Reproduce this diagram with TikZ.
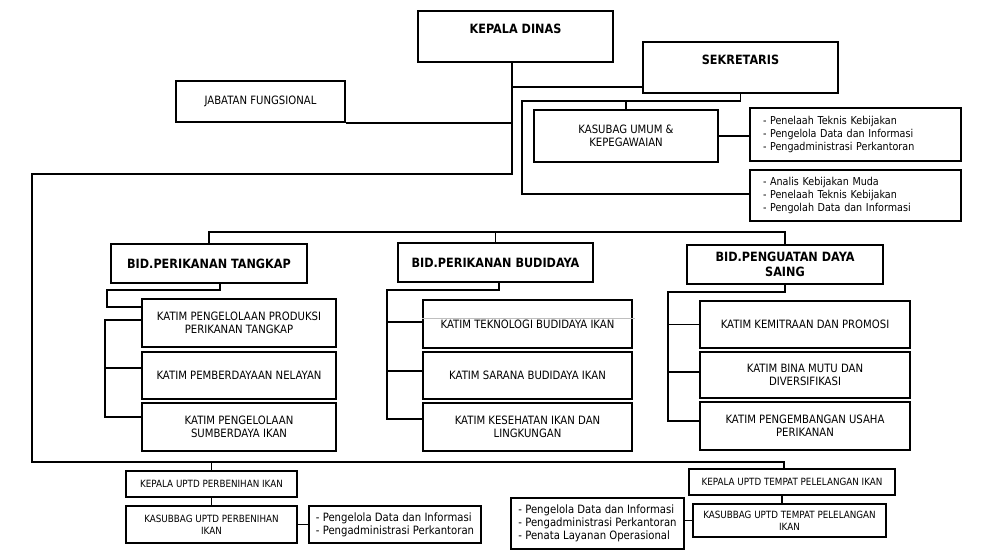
\documentclass[tikz,border=0pt]{standalone}
\usepackage{fontspec}
\setmainfont{DejaVu Sans}[FakeStretch=0.88]
\usepackage{tikz}
\usetikzlibrary{positioning,calc}

\tikzset{
  link/.style={line width=1.3pt},
  sz/.style 2 args={minimum width={#1*0.03cm}, minimum height={#2*0.03cm}},
  box/.style={draw, link, inner sep=0pt, align=center, font=\fontsize{9.8}{11.2}\selectfont},
  head/.style={box, font=\bfseries\fontsize{10.9}{12.5}\selectfont},
  small/.style={box, font=\fontsize{8.5}{10.2}\selectfont},
  lst/.style 2 args={draw, link, inner ysep=0pt, inner xsep=0.39cm, align=left,
    text width={(#1-26)*0.03cm}, minimum height={#2*0.03cm}, font=\fontsize{9.3}{11.3}\selectfont},
  blst/.style 2 args={draw, link, inner sep=0pt, align=left, sz={#1}{#2},
    font=\fontsize{9.8}{11.2}\selectfont},
}

\begin{document}
\begin{tikzpicture}[x=0.03cm, y=-0.03cm]
  \useasboundingbox (0,0) rectangle (984,559);

  % pimpinan
  \node[head, sz={195}{51}] (kadis) at (515.5,36.5) {KEPALA DINAS\\ \mbox{}};
  \node[head, sz={195}{51}] (sek) at (740.5,67.5) {SEKRETARIS\\ \mbox{}};
  \node[box, sz={169}{41}] (jabfung) at (260.5,101.5) {JABATAN FUNGSIONAL};

  % sekretariat
  \node[box, sz={184}{52}] (kasubag) at (626,136) {KASUBAG UMUM \&\\KEPEGAWAIAN};
  \node[lst={211}{53}] (list1) at (855.5,134.5)
    {- Penelaah Teknis Kebijakan\\- Pengelola Data dan Informasi\\- Pengadministrasi Perkantoran};
  \node[lst={211}{51}] (list2) at (855.5,195.5)
    {- Analis Kebijakan Muda\\- Penelaah Teknis Kebijakan\\- Pengolah Data dan Informasi};

  % bidang
  \node[head, sz={196}{39}] (bid1) at (209,263.5) {BID.PERIKANAN TANGKAP};
  \node[head, sz={195}{39}] (bid2) at (495.5,262.5) {BID.PERIKANAN BUDIDAYA};
  \node[head, sz={196}{39}] (bid3) at (785,264.5) {BID.PENGUATAN DAYA\\SAING};

  % katim
  \node[box, sz={194}{48}] (k11) at (239,323) {KATIM PENGELOLAAN PRODUKSI\\PERIKANAN TANGKAP};
  \node[box, sz={194}{47}] (k12) at (239,375.5) {KATIM PEMBERDAYAAN NELAYAN};
  \node[box, sz={194}{48}] (k13) at (239,427) {KATIM PENGELOLAAN\\SUMBERDAYA IKAN};

  \node[box, sz={209}{48}] (k21) at (527.5,324) {KATIM TEKNOLOGI BUDIDAYA IKAN};
  \node[box, sz={209}{47}] (k22) at (527.5,375.5) {KATIM SARANA BUDIDAYA IKAN};
  \node[box, sz={209}{48}] (k23) at (527.5,427) {KATIM KESEHATAN IKAN DAN\\LINGKUNGAN};

  \node[box, sz={210}{47}] (k31) at (805,324.5) {KATIM KEMITRAAN DAN PROMOSI};
  \node[box, sz={210}{46}] (k32) at (805,375) {KATIM BINA MUTU DAN\\DIVERSIFIKASI};
  \node[box, sz={210}{48}] (k33) at (805,426) {KATIM PENGEMBANGAN USAHA\\PERIKANAN};

  % uptd
  \node[small, sz={171}{26}] (uptd1) at (211.5,484) {KEPALA UPTD PERBENIHAN IKAN};
  \node[small, sz={171}{37}] (ksb1) at (211.5,524.5) {KASUBBAG UPTD PERBENIHAN\\IKAN};
  \node[blst={172}{37}] (list3) at (395,524.5)
    {- Pengelola Data dan Informasi\\- Pengadministrasi Perkantoran};
  \node[small, sz={206}{26}] (uptd2) at (792,482) {KEPALA UPTD TEMPAT PELELANGAN IKAN};
  \node[small, sz={193}{33}] (ksb2) at (789.5,520.5) {KASUBBAG UPTD TEMPAT PELELANGAN\\IKAN};
  \node[blst={173}{51}] (list4) at (597.5,523.5)
    {- Pengelola Data dan Informasi\\- Pengadministrasi Perkantoran\\- Penata Layanan Operasional};

  % garis komando
  \coordinate (trunk) at (512,174);
  \coordinate (loopsw) at (32,462);
  \coordinate (tpi) at (784,462);
  \draw[link] (trunk |- kadis.south) -- (trunk) -| (loopsw) -- (tpi) -- (tpi |- uptd2.north);
  \draw[link] (uptd1.north |- loopsw) -- (uptd1.north);
  \coordinate (sekin) at (643,87);
  \draw[link] (trunk |- sekin) -- (sekin);
  \draw[link] (jabfung.south east) -- (trunk |- jabfung.south east);

  \coordinate (sekbus) at (522,101);
  \draw[link] (sek.south) |- (sekbus) |- ([yshift=1.2pt]list2.west);
  \draw[link] (kasubag.north) -- (kasubag.north |- sekbus);
  \draw[link] (kasubag.east) -- (kasubag.east -| list1.west);

  \coordinate (bidbus) at (496,232);
  \draw[link] (bid1.north) -- (bid1.north |- bidbus) -- (bid3.north |- bidbus) -- (bid3.north);
  \draw[link] (bid2.north) -- (bid2.north |- bidbus);

  % bidang tangkap
  \coordinate (c1) at (107,290);
  \draw[link] ([xshift=9.4pt]bid1.south) |- (c1) |- ([yshift=-7.6pt]k11.north west);
  \coordinate (s1) at (105,320);
  \draw[link] (s1 -| k11.west) -- (s1) |- ([yshift=8.5pt]k13.west);
  \draw[link] ([yshift=6.4pt]k12.west) -| (s1);

  % bidang budidaya
  \coordinate (s2) at (387,290);
  \draw[link] ([xshift=3pt]bid2.south) |- (s2) |- ([yshift=6.8pt]k23.west);
  \draw[link] ([yshift=1.7pt]k21.west) -| (s2);
  \draw[link] ([yshift=3.8pt]k22.west) -| (s2);
  \draw[gray!50, line width=0.6pt] ([yshift=5.1pt]k21.west) -- ([yshift=5.1pt,xshift=1.5pt]k21.east);

  % bidang penguatan daya saing
  \coordinate (s3) at (668,292);
  \draw[link] (bid3.south) |- (s3) |- ([yshift=4.3pt]k33.west);
  \draw[link] (k31.west) -| (s3);
  \draw[link] ([yshift=2.5pt]k32.west) -| (s3);

  % uptd
  \draw[link] (uptd1.south) -- (ksb1.north);
  \draw[link] (ksb1.east) -- (list3.west);
  \draw[link] ([xshift=-6.4pt]ksb2.north) -- ([xshift=-6.4pt]ksb2.north |- uptd2.south);
  \draw[link] (ksb2.west) -- (ksb2.west -| list4.east);
\end{tikzpicture}
\end{document}
